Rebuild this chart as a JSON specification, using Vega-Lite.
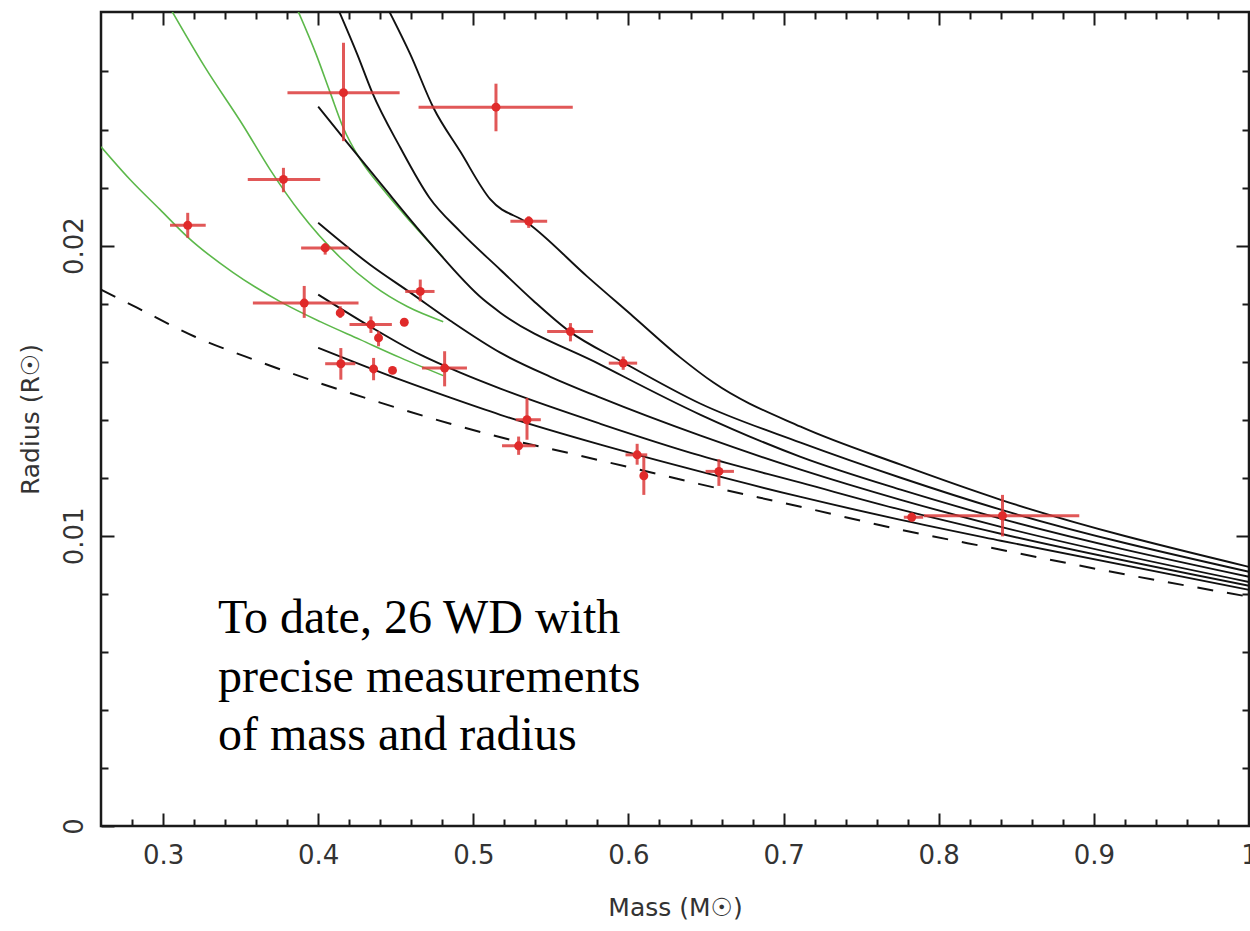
{
  "$schema": "https://vega.github.io/schema/vega-lite/v6.json",
  "width": 1148,
  "height": 814,
  "autosize": {"type": "none"},
  "padding": {"left": 101, "top": 12, "right": 1, "bottom": 105},
  "background": "white",
  "config": {
    "view": {"stroke": "#1a1a1a", "strokeWidth": 2.5},
    "axis": {
      "domain": false, "grid": false, "tickColor": "#1a1a1a", "tickWidth": 2,
      "labelFont": "DejaVu Sans", "labelFontSize": 26, "labelColor": "#333333",
      "labelFlush": false, "labelOverlap": false,
      "titleFont": "DejaVu Sans", "titleFontSize": 25, "titleFontWeight": "normal", "titleColor": "#333333"
    }
  },
  "datasets": {
    "green": [
      {"c": "g1", "m": 0.26, "r": 0.02341}, {"c": "g1", "m": 0.2787, "r": 0.02228}, {"c": "g1", "m": 0.2981, "r": 0.02124},
      {"c": "g1", "m": 0.3155, "r": 0.02031}, {"c": "g1", "m": 0.3452, "r": 0.01907}, {"c": "g1", "m": 0.3755, "r": 0.01807},
      {"c": "g1", "m": 0.4013, "r": 0.01738}, {"c": "g1", "m": 0.4271, "r": 0.01676}, {"c": "g1", "m": 0.4529, "r": 0.01614},
      {"c": "g1", "m": 0.4806, "r": 0.01552},
      {"c": "g2", "m": 0.3058, "r": 0.02807}, {"c": "g2", "m": 0.3271, "r": 0.02614}, {"c": "g2", "m": 0.3516, "r": 0.02414},
      {"c": "g2", "m": 0.369, "r": 0.02262}, {"c": "g2", "m": 0.3884, "r": 0.02114}, {"c": "g2", "m": 0.4142, "r": 0.01959},
      {"c": "g2", "m": 0.4355, "r": 0.01862}, {"c": "g2", "m": 0.4574, "r": 0.0179}, {"c": "g2", "m": 0.4806, "r": 0.01738},
      {"c": "g3", "m": 0.3871, "r": 0.02807}, {"c": "g3", "m": 0.3987, "r": 0.02659}, {"c": "g3", "m": 0.4077, "r": 0.02528},
      {"c": "g3", "m": 0.4161, "r": 0.02407}, {"c": "g3", "m": 0.4271, "r": 0.02297}, {"c": "g3", "m": 0.4419, "r": 0.02193},
      {"c": "g3", "m": 0.4594, "r": 0.02083}, {"c": "g3", "m": 0.4806, "r": 0.01959}
    ],
    "black": [
      {"c": "c1", "m": 0.4135, "r": 0.02807}, {"c": "c1", "m": 0.4252, "r": 0.02659}, {"c": "c1", "m": 0.4348, "r": 0.02528},
      {"c": "c1", "m": 0.4529, "r": 0.02338}, {"c": "c1", "m": 0.4716, "r": 0.02166}, {"c": "c1", "m": 0.4916, "r": 0.02048},
      {"c": "c1", "m": 0.5174, "r": 0.01917}, {"c": "c1", "m": 0.5387, "r": 0.0181}, {"c": "c1", "m": 0.5613, "r": 0.01707},
      {"c": "c1", "m": 0.5968, "r": 0.01597}, {"c": "c1", "m": 0.6465, "r": 0.01455}, {"c": "c1", "m": 0.711, "r": 0.01321},
      {"c": "c1", "m": 0.7755, "r": 0.012}, {"c": "c1", "m": 0.84, "r": 0.0109}, {"c": "c1", "m": 1.0, "r": 0.00876},
      {"c": "c2", "m": 0.4458, "r": 0.02807}, {"c": "c2", "m": 0.4594, "r": 0.02659}, {"c": "c2", "m": 0.4742, "r": 0.02476},
      {"c": "c2", "m": 0.4916, "r": 0.02324}, {"c": "c2", "m": 0.511, "r": 0.02159}, {"c": "c2", "m": 0.5355, "r": 0.02076},
      {"c": "c2", "m": 0.5735, "r": 0.01893}, {"c": "c2", "m": 0.6032, "r": 0.01755}, {"c": "c2", "m": 0.6335, "r": 0.01614},
      {"c": "c2", "m": 0.6548, "r": 0.01528}, {"c": "c2", "m": 0.711, "r": 0.01376}, {"c": "c2", "m": 0.7755, "r": 0.01245},
      {"c": "c2", "m": 0.84, "r": 0.01124}, {"c": "c2", "m": 1.0, "r": 0.00893},
      {"c": "c3", "m": 0.4, "r": 0.02479}, {"c": "c3", "m": 0.4187, "r": 0.02355}, {"c": "c3", "m": 0.4419, "r": 0.02203},
      {"c": "c3", "m": 0.4703, "r": 0.02021}, {"c": "c3", "m": 0.5065, "r": 0.01814}, {"c": "c3", "m": 0.5174, "r": 0.01769},
      {"c": "c3", "m": 0.5819, "r": 0.0159}, {"c": "c3", "m": 0.6465, "r": 0.01417}, {"c": "c3", "m": 0.711, "r": 0.01272},
      {"c": "c3", "m": 0.7755, "r": 0.01159}, {"c": "c3", "m": 0.84, "r": 0.01059}, {"c": "c3", "m": 1.0, "r": 0.00859},
      {"c": "c4", "m": 0.4, "r": 0.02079}, {"c": "c4", "m": 0.4335, "r": 0.01934}, {"c": "c4", "m": 0.4594, "r": 0.01838},
      {"c": "c4", "m": 0.4852, "r": 0.01741}, {"c": "c4", "m": 0.5174, "r": 0.01631}, {"c": "c4", "m": 0.5497, "r": 0.01548},
      {"c": "c4", "m": 0.5819, "r": 0.01476}, {"c": "c4", "m": 0.6465, "r": 0.01345}, {"c": "c4", "m": 0.711, "r": 0.01228},
      {"c": "c4", "m": 0.7755, "r": 0.01124}, {"c": "c4", "m": 0.84, "r": 0.01031}, {"c": "c4", "m": 1.0, "r": 0.00841},
      {"c": "c5", "m": 0.4, "r": 0.01831}, {"c": "c5", "m": 0.4335, "r": 0.01721}, {"c": "c5", "m": 0.4658, "r": 0.01624},
      {"c": "c5", "m": 0.4916, "r": 0.01562}, {"c": "c5", "m": 0.5174, "r": 0.01507}, {"c": "c5", "m": 0.5819, "r": 0.01386},
      {"c": "c5", "m": 0.6465, "r": 0.01276}, {"c": "c5", "m": 0.711, "r": 0.01183}, {"c": "c5", "m": 0.7755, "r": 0.0109},
      {"c": "c5", "m": 0.84, "r": 0.01007}, {"c": "c5", "m": 1.0, "r": 0.00828},
      {"c": "c6", "m": 0.4, "r": 0.01648}, {"c": "c6", "m": 0.4529, "r": 0.01538}, {"c": "c6", "m": 0.4852, "r": 0.01476},
      {"c": "c6", "m": 0.5174, "r": 0.01417}, {"c": "c6", "m": 0.5819, "r": 0.01314}, {"c": "c6", "m": 0.6465, "r": 0.01221},
      {"c": "c6", "m": 0.711, "r": 0.01134}, {"c": "c6", "m": 0.7755, "r": 0.01055}, {"c": "c6", "m": 0.84, "r": 0.00983},
      {"c": "c6", "m": 1.0, "r": 0.00814}
    ],
    "zero": [
      {"m": 0.26, "r": 0.01848}, {"m": 0.2832, "r": 0.01786}, {"m": 0.3206, "r": 0.01686}, {"m": 0.3606, "r": 0.01603},
      {"m": 0.4, "r": 0.01528}, {"m": 0.44, "r": 0.01459}, {"m": 0.4852, "r": 0.01386}, {"m": 0.5239, "r": 0.01331},
      {"m": 0.5632, "r": 0.01283}, {"m": 0.6045, "r": 0.01231}, {"m": 0.6452, "r": 0.01179}, {"m": 0.711, "r": 0.011},
      {"m": 0.7755, "r": 0.01021}, {"m": 0.84, "r": 0.00952}, {"m": 0.9045, "r": 0.00883}, {"m": 1.0, "r": 0.0079}
    ],
    "wd": [
      {"m": 0.4163, "r": 0.02527, "mlo": 0.3802, "mhi": 0.4525, "rlo": 0.0236, "rhi": 0.02699},
      {"m": 0.3776, "r": 0.02228, "mlo": 0.3546, "mhi": 0.4013, "rlo": 0.02184, "rhi": 0.02268},
      {"m": 0.3159, "r": 0.0207, "mlo": 0.3045, "mhi": 0.3275, "rlo": 0.02027, "rhi": 0.02113},
      {"m": 0.4045, "r": 0.01992, "mlo": 0.389, "mhi": 0.4196, "rlo": 0.01969, "rhi": 0.02009},
      {"m": 0.391, "r": 0.01802, "mlo": 0.3579, "mhi": 0.426, "rlo": 0.01751, "rhi": 0.01861},
      {"m": 0.4142, "r": 0.01768, "mlo": 0.4125, "mhi": 0.416, "rlo": 0.01751, "rhi": 0.01791},
      {"m": 0.434, "r": 0.01728, "mlo": 0.4202, "mhi": 0.4475, "rlo": 0.01699, "rhi": 0.01756},
      {"m": 0.4389, "r": 0.01682, "mlo": 0.4375, "mhi": 0.4403, "rlo": 0.01653, "rhi": 0.01705},
      {"m": 0.4555, "r": 0.01736, "mlo": 0.4555, "mhi": 0.4555, "rlo": 0.01736, "rhi": 0.01736},
      {"m": 0.4146, "r": 0.01593, "mlo": 0.4045, "mhi": 0.4239, "rlo": 0.01538, "rhi": 0.01647},
      {"m": 0.4357, "r": 0.01575, "mlo": 0.4335, "mhi": 0.438, "rlo": 0.01536, "rhi": 0.01613},
      {"m": 0.4479, "r": 0.0157, "mlo": 0.4479, "mhi": 0.4479, "rlo": 0.0157, "rhi": 0.0157},
      {"m": 0.4658, "r": 0.01842, "mlo": 0.4561, "mhi": 0.475, "rlo": 0.01808, "rhi": 0.01883},
      {"m": 0.5146, "r": 0.02477, "mlo": 0.4647, "mhi": 0.5641, "rlo": 0.02394, "rhi": 0.02558},
      {"m": 0.5357, "r": 0.02084, "mlo": 0.5239, "mhi": 0.5476, "rlo": 0.02061, "rhi": 0.02101},
      {"m": 0.5626, "r": 0.01704, "mlo": 0.5476, "mhi": 0.5772, "rlo": 0.0167, "rhi": 0.01733},
      {"m": 0.5966, "r": 0.01595, "mlo": 0.5873, "mhi": 0.6056, "rlo": 0.01572, "rhi": 0.01618},
      {"m": 0.4815, "r": 0.01578, "mlo": 0.4669, "mhi": 0.4959, "rlo": 0.01515, "rhi": 0.01636},
      {"m": 0.5346, "r": 0.014, "mlo": 0.5274, "mhi": 0.5435, "rlo": 0.01331, "rhi": 0.01475},
      {"m": 0.5292, "r": 0.0131, "mlo": 0.5185, "mhi": 0.54, "rlo": 0.01279, "rhi": 0.01342},
      {"m": 0.6056, "r": 0.01279, "mlo": 0.5981, "mhi": 0.6121, "rlo": 0.01245, "rhi": 0.01317},
      {"m": 0.6099, "r": 0.01207, "mlo": 0.6085, "mhi": 0.6113, "rlo": 0.01141, "rhi": 0.01273},
      {"m": 0.6583, "r": 0.01222, "mlo": 0.6497, "mhi": 0.668, "rlo": 0.01172, "rhi": 0.01264},
      {"m": 0.7826, "r": 0.01064, "mlo": 0.7775, "mhi": 0.79, "rlo": 0.0105, "rhi": 0.0108},
      {"m": 0.8411, "r": 0.01069, "mlo": 0.7905, "mhi": 0.8906, "rlo": 0.00998, "rhi": 0.01141}
    ],
    "note": [{"m": 0.3354, "r": 0.00665}]
  },
  "resolve": {"axis": {"x": "independent", "y": "independent"}},
  "layer": [
    {
      "data": {"name": "green"},
      "mark": {"type": "line", "color": "#5cb84a", "strokeWidth": 1.6, "clip": true, "interpolate": "monotone"},
      "encoding": {
        "x": {"field": "m", "type": "quantitative", "scale": {"domain": [0.26, 1.0], "nice": false, "zero": false},
          "axis": {"orient": "bottom", "values": [0.3, 0.4, 0.5, 0.6, 0.7, 0.8, 0.9, 1.0], "format": "~g", "tickSize": -13, "labelPadding": 29, "title": "Mass  (M☉)", "titlePadding": 27}},
        "y": {"field": "r", "type": "quantitative", "scale": {"domain": [0, 0.02805], "nice": false, "zero": false},
          "axis": {"orient": "left", "values": [0, 0.01, 0.02], "format": "~g", "tickSize": -13, "labelPadding": 27, "labelAngle": -90, "labelAlign": "center", "labelBaseline": "bottom", "title": "Radius  (R☉)", "titlePadding": 18}},
        "detail": {"field": "c"}
      }
    },
    {
      "data": {"name": "black"},
      "mark": {"type": "line", "color": "#111111", "strokeWidth": 1.9, "clip": true, "interpolate": "monotone"},
      "encoding": {
        "x": {"field": "m", "type": "quantitative", "scale": {"domain": [0.26, 1.0], "nice": false, "zero": false},
          "axis": {"orient": "bottom", "values": [0.28, 0.32, 0.34, 0.36, 0.38, 0.42, 0.44, 0.46, 0.48, 0.52, 0.54, 0.56, 0.58, 0.62, 0.64, 0.66, 0.68, 0.72, 0.74, 0.76, 0.78, 0.82, 0.84, 0.86, 0.88, 0.92, 0.94, 0.96, 0.98], "tickSize": -7, "labels": false, "title": null}},
        "y": {"field": "r", "type": "quantitative", "scale": {"domain": [0, 0.02805], "nice": false, "zero": false},
          "axis": {"orient": "left", "values": [0.002, 0.004, 0.006, 0.008, 0.012, 0.014, 0.016, 0.018, 0.022, 0.024, 0.026], "tickSize": -7, "labels": false, "title": null}},
        "detail": {"field": "c"}
      }
    },
    {
      "data": {"name": "zero"},
      "mark": {"type": "line", "color": "#111111", "strokeWidth": 2, "strokeDash": [16, 14], "clip": true, "interpolate": "monotone"},
      "encoding": {
        "x": {"field": "m", "type": "quantitative", "scale": {"domain": [0.26, 1.0], "nice": false, "zero": false},
          "axis": {"orient": "top", "values": [0.3, 0.4, 0.5, 0.6, 0.7, 0.8, 0.9], "tickSize": -13, "labels": false, "title": null}},
        "y": {"field": "r", "type": "quantitative", "scale": {"domain": [0, 0.02805], "nice": false, "zero": false},
          "axis": {"orient": "right", "values": [0.01, 0.02], "tickSize": -13, "labels": false, "title": null}}
      }
    },
    {
      "data": {"name": "wd"},
      "mark": {"type": "rule", "color": "#dc3b3b", "strokeWidth": 3, "opacity": 0.85},
      "encoding": {
        "x": {"field": "mlo", "type": "quantitative", "scale": {"domain": [0.26, 1.0], "nice": false, "zero": false},
          "axis": {"orient": "top", "values": [0.28, 0.32, 0.34, 0.36, 0.38, 0.42, 0.44, 0.46, 0.48, 0.52, 0.54, 0.56, 0.58, 0.62, 0.64, 0.66, 0.68, 0.72, 0.74, 0.76, 0.78, 0.82, 0.84, 0.86, 0.88, 0.92, 0.94, 0.96, 0.98], "tickSize": -7, "labels": false, "title": null}},
        "x2": {"field": "mhi"},
        "y": {"field": "r", "type": "quantitative", "scale": {"domain": [0, 0.02805], "nice": false, "zero": false},
          "axis": {"orient": "right", "values": [0.002, 0.004, 0.006, 0.008, 0.012, 0.014, 0.016, 0.018, 0.022, 0.024, 0.026], "tickSize": -7, "labels": false, "title": null}}
      }
    },
    {
      "data": {"name": "wd"},
      "mark": {"type": "rule", "color": "#dc3b3b", "strokeWidth": 3, "opacity": 0.85},
      "encoding": {
        "x": {"field": "m", "type": "quantitative", "scale": {"domain": [0.26, 1.0], "nice": false, "zero": false}, "axis": null},
        "y": {"field": "rlo", "type": "quantitative", "scale": {"domain": [0, 0.02805], "nice": false, "zero": false}, "axis": null},
        "y2": {"field": "rhi"}
      }
    },
    {
      "data": {"name": "wd"},
      "mark": {"type": "point", "shape": "circle", "filled": true, "color": "#e02a2a", "opacity": 1, "size": 80},
      "encoding": {
        "x": {"field": "m", "type": "quantitative", "scale": {"domain": [0.26, 1.0], "nice": false, "zero": false}, "axis": null},
        "y": {"field": "r", "type": "quantitative", "scale": {"domain": [0, 0.02805], "nice": false, "zero": false}, "axis": null}
      }
    },
    {
      "data": {"name": "note"},
      "mark": {"type": "text", "text": ["To date, 26 WD with", "precise measurements", "of mass and radius"], "font": "Liberation Serif", "fontSize": 48, "lineHeight": 58.5, "align": "left", "baseline": "alphabetic", "color": "#000000"},
      "encoding": {
        "x": {"field": "m", "type": "quantitative", "scale": {"domain": [0.26, 1.0], "nice": false, "zero": false}, "axis": null},
        "y": {"field": "r", "type": "quantitative", "scale": {"domain": [0, 0.02805], "nice": false, "zero": false}, "axis": null}
      }
    }
  ]
}
